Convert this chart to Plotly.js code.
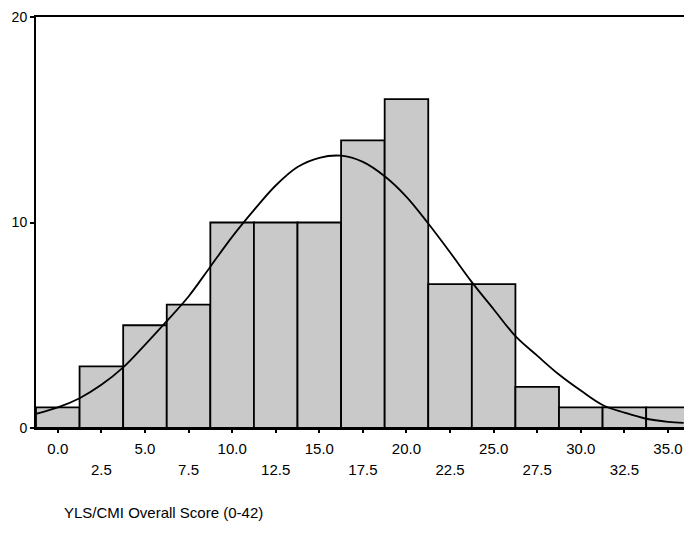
<!DOCTYPE html>
<html>
<head>
<meta charset="utf-8">
<script src="https://cdn.plot.ly/plotly-3.0.1.min.js"></script>
<style>html,body{margin:0;padding:0;background:#fff;}#chart{width:684px;height:534px;}</style>
</head>
<body>
<div id="chart"></div>
<script>
// Histogram bins (centers) and counts
const binCenters = [0, 2.5, 5, 7.5, 10, 12.5, 15, 17.5, 20, 22.5, 25, 27.5, 30, 32.5, 35];
const counts     = [1, 3, 5, 6, 10, 10, 10, 14, 16, 7, 7, 2, 1, 1, 1];

// Fitted normal curve
const curveX = [-1.2, 0, 1.25, 2.5, 3.75, 5, 6.25, 7.5, 8.75, 10, 11.25, 12.5, 13.75, 15, 16.25, 17.5, 18.75, 20, 21.25, 22.5, 23.75, 25, 26.25, 27.5, 28.75, 30, 31.25, 32.5, 33.75, 35, 35.9];
const curveY = [0.7, 1.0, 1.45, 2.1, 2.95, 4.05, 5.2, 6.4, 7.85, 9.3, 10.6, 11.8, 12.7, 13.15, 13.25, 12.95, 12.25, 11.25, 9.95, 8.55, 7.1, 5.78, 4.47, 3.52, 2.6, 1.82, 1.12, 0.75, 0.45, 0.3, 0.25];

// Tick labels (two staggered rows)
const tickRow1Vals = [0, 2.5, 5, 7.5, 10, 12.5, 15, 17.5, 20, 22.5, 25, 27.5, 30, 32.5, 35];
const tickRow1Text = ["0.0", "", "5.0", "", "10.0", "", "15.0", "", "20.0", "", "25.0", "", "30.0", "", "35.0"];
const tickRow2Vals = [2.5, 7.5, 12.5, 17.5, 22.5, 27.5, 32.5];
const tickRow2Text = ["2.5", "7.5", "12.5", "17.5", "22.5", "27.5", "32.5"];
const yTickVals = [0, 10, 20];
const xTitle = "YLS/CMI Overall Score (0-42)";

const font = {family: "Liberation Sans, Arial, sans-serif", size: 14, color: "#000"};

const traces = [
  {
    type: "bar",
    x: binCenters,
    y: counts,
    width: 2.5,
    marker: {color: "#c9c9c9", line: {color: "#000", width: 1.8}},
    hoverinfo: "x+y"
  },
  {
    type: "scatter",
    mode: "lines",
    x: curveX,
    y: curveY,
    line: {color: "#000", width: 1.8, shape: "spline", smoothing: 1},
    hoverinfo: "skip"
  },
  {
    type: "scatter",
    mode: "markers",
    x: [tickRow2Vals[0]],
    y: [0],
    xaxis: "x2",
    marker: {opacity: 0},
    hoverinfo: "skip"
  }
];

const layout = {
  width: 684,
  height: 534,
  margin: {l: 36, r: 0, t: 17, b: 106},
  paper_bgcolor: "#fff",
  plot_bgcolor: "#fff",
  showlegend: false,
  bargap: 0,
  font: font,
  xaxis: {
    range: [-1.25, 35.92],
    tickvals: tickRow1Vals,
    ticktext: tickRow1Text,
    ticks: "outside",
    ticklen: 3,
    tickwidth: 2,
    tickcolor: "#000",
    showline: true,
    linecolor: "#000",
    linewidth: 2,
    mirror: true,
    showgrid: false,
    zeroline: false,
    ticklabelstandoff: 3,
    tickfont: {family: font.family, size: 15, color: "#000"}
  },
  xaxis2: {
    overlaying: "x",
    matches: "x",
    side: "bottom",
    anchor: "y",
    tickvals: tickRow2Vals,
    ticktext: tickRow2Text,
    ticks: "",
    showline: false,
    showgrid: false,
    zeroline: false,
    ticklabelstandoff: 31,
    tickfont: {family: font.family, size: 15, color: "#000"}
  },
  yaxis: {
    range: [0, 20],
    tickvals: yTickVals,
    ticktext: yTickVals.map(String),
    ticks: "outside",
    ticklen: 4,
    tickwidth: 2,
    tickcolor: "#000",
    showline: true,
    linecolor: "#000",
    linewidth: 2,
    showgrid: false,
    zeroline: false,
    tickfont: font
  },
  annotations: [
    {
      text: xTitle,
      xref: "paper", yref: "paper",
      x: 0.04, y: -0.205,
      xanchor: "left", yanchor: "middle",
      showarrow: false,
      font: {family: "Liberation Sans, Arial, sans-serif", size: 15, color: "#000"}
    }
  ]
};

Plotly.newPlot("chart", traces, layout, {displayModeBar: false, staticPlot: true});
</script>
</body>
</html>
